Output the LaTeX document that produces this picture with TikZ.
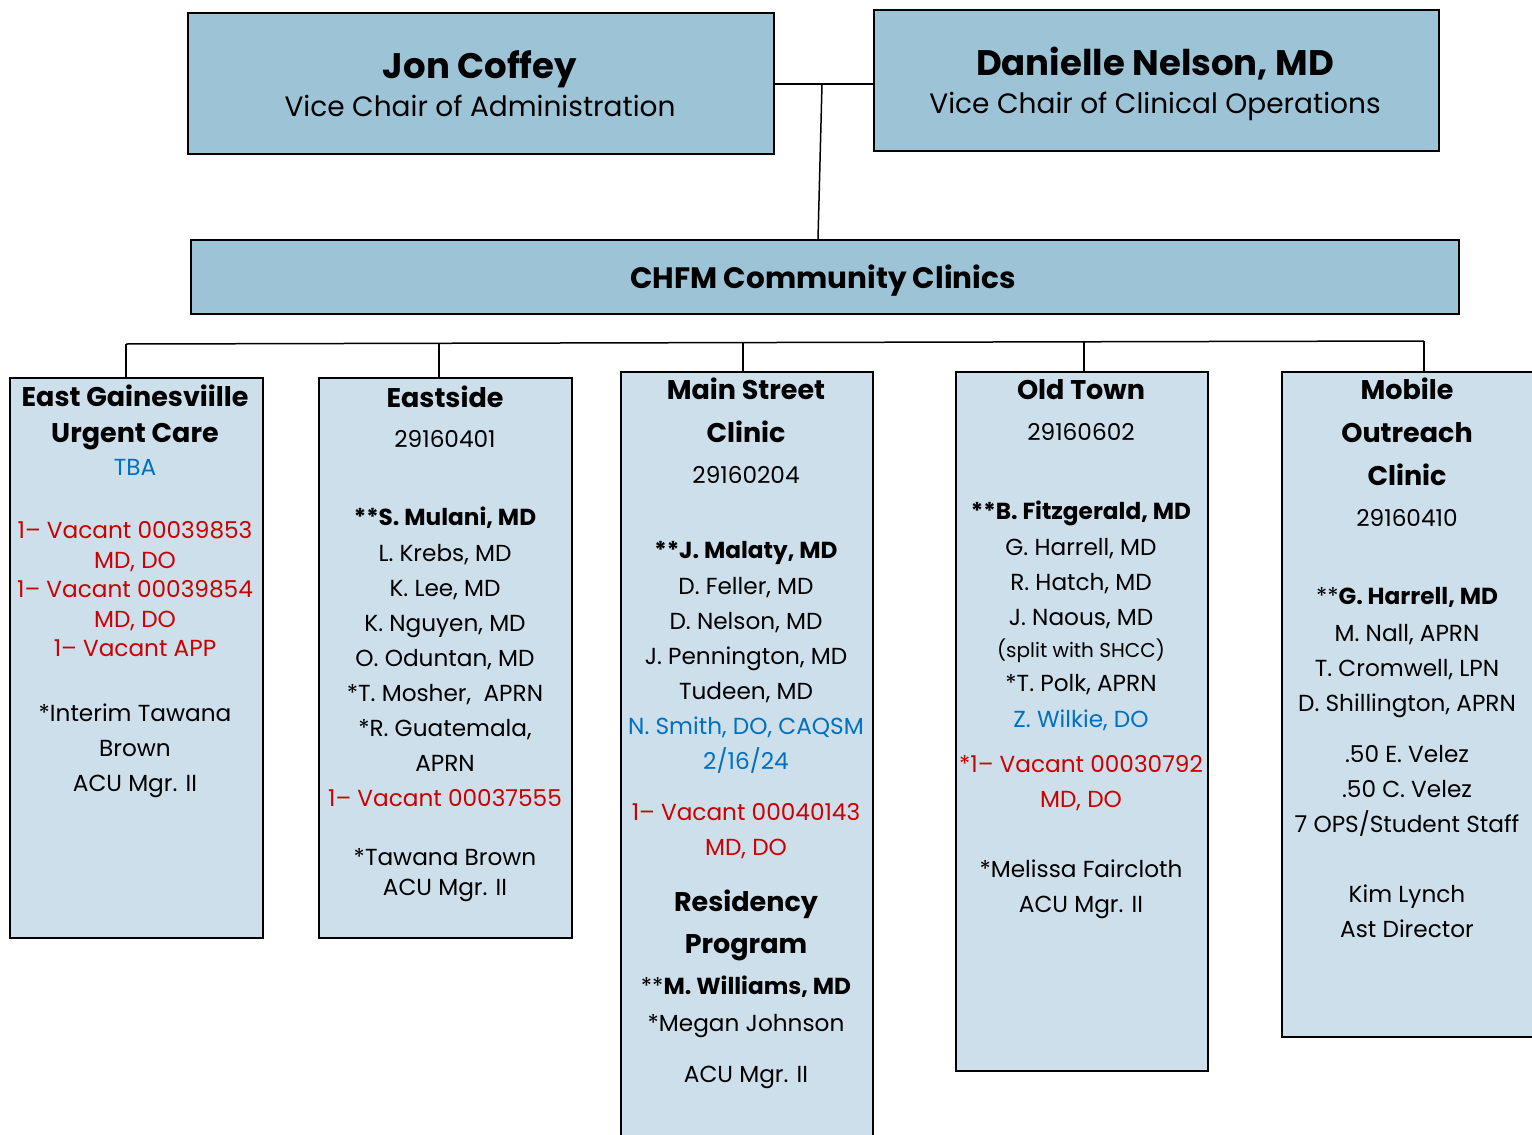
\documentclass[tikz,border=0pt]{standalone}
\usepackage{fontspec}
\setmainfont{Poppins}
\usepackage{xcolor}
\usepackage{tikz}
\definecolor{topblue}{RGB}{157,195,214}
\definecolor{boxblue}{RGB}{204,223,235}
\definecolor{vacred}{RGB}{204,0,0}
\definecolor{updblue}{RGB}{0,112,192}
\def\ttlsize{\fontsize{35.5}{40}\selectfont}
\def\subsize{\fontsize{28}{33}\selectfont}
\def\unitsize{\fontsize{29.5}{34}\selectfont}
\def\hdsize{\fontsize{27}{32}\selectfont}
\def\txtsize{\fontsize{23.2}{28}\selectfont}
\def\smsize{\fontsize{20}{24}\selectfont}

\begin{document}
\begin{tikzpicture}[x=1pt, y=-1pt,
    topbox/.style={draw, line width=1.8pt, fill=topblue, inner sep=0pt, anchor=north west},
    clinic/.style={draw, line width=1.8pt, fill=boxblue, inner sep=0pt, anchor=north west},
    wire/.style={line width=1.5pt},
    tx/.style={anchor=base, yshift=-8pt, inner sep=0pt, font=\txtsize},
    bd/.style={anchor=base, yshift=-8pt, inner sep=0pt, font=\txtsize\bfseries},
    hd/.style={anchor=base, yshift=-9.5pt, inner sep=0pt, font=\hdsize\bfseries},
    vac/.style={tx, text=vacred},
    upd/.style={tx, text=updblue},
    sm/.style={anchor=base, yshift=-7pt, inner sep=0pt, font=\smsize}]
\useasboundingbox (0,0) rectangle (1532,1135);
\clip (0,0) rectangle (1532,1135);

%% vice chairs
\node[topbox, minimum width=586pt, minimum height=141pt] (jc) at (187,12) {};
\node[topbox, minimum width=565pt, minimum height=141pt] (dn) at (873,9) {};
\node[anchor=base, font=\ttlsize\bfseries] (jc-name) at (480,78) {Jon Coffey};
\node[anchor=base, font=\subsize] (jc-role) at (480,116) {Vice Chair of Administration};
\node[anchor=base, font=\ttlsize\bfseries] (dn-name) at (1155,75) {Danielle Nelson, MD};
\node[anchor=base, font=\subsize] (dn-role) at (1155,113) {Vice Chair of Clinical Operations};

%% community clinics
\node[topbox, minimum width=1268pt, minimum height=74pt] (chfm) at (190,239) {};
\node[anchor=base, font=\unitsize\bfseries] (chfm-name) at (823,288) {CHFM Community Clinics};

    \coordinate (vc) at (822,84);
    \coordinate (vcb) at (818,239);
\draw[wire] (jc.east |- vc) -- (dn.west |- vc);
\draw[wire] (vc) -- (vcb);

%% clinic boxes
\node[clinic, minimum width=253pt, minimum height=560pt] (eg) at (9,377) {};
\node[clinic, minimum width=253pt, minimum height=560pt] (es) at (318,377) {};
\node[clinic, minimum width=252pt, minimum height=780pt] (ms) at (620,371) {};
\node[clinic, minimum width=252pt, minimum height=699pt] (ot) at (955,371) {};
\node[clinic, minimum width=280pt, minimum height=665pt] (mo) at (1281,371) {};

%% bus line
    \coordinate (b1) at (126,344);
    \coordinate (b2) at (439,343);
    \coordinate (b3) at (743,343);
    \coordinate (b4) at (1084,342);
    \coordinate (b5) at (1424,341);
\draw[wire] (b1) -- (b5);
\draw[wire] (b1) -- (b1 |- eg.north);
\draw[wire] (b2) -- (b2 |- es.north);
\draw[wire] (b3) -- (b3 |- ms.north);
\draw[wire] (b4) -- (b4 |- ot.north);
\draw[wire] (b5) -- (b5 |- mo.north);

%% East Gainesville
\foreach \y/\s/\t in {397/hd/East Gainesviille, 433/hd/Urgent Care, 467/upd/TBA,
    530/vac/1-- Vacant 00039853, 560/vac/{MD, DO}, 589/vac/1-- Vacant 00039854,
    619/vac/{MD, DO}, 648/vac/1-- Vacant APP,
    713/tx/*Interim Tawana, 748/tx/Brown, 783/tx/ACU Mgr. II}
    \node[\s] (eg-\y) at (135,\y) {\t};

%% Eastside
\foreach \y/\s/\t in {398/hd/Eastside, 439/tx/29160401,
    517/bd/{**S. Mulani, MD}, 553/tx/{L. Krebs, MD}, 588/tx/{K. Lee, MD},
    623/tx/{K. Nguyen, MD}, 658/tx/{O. Oduntan, MD}, 693/tx/{*T. Mosher, \ APRN},
    728/tx/{*R. Guatemala,}, 763/tx/APRN, 798/vac/1-- Vacant 00037555,
    857/tx/*Tawana Brown, 887/tx/ACU Mgr. II}
    \node[\s] (es-\y) at (445,\y) {\t};

%% Main Street
\foreach \y/\s/\t in {390/hd/Main Street, 433/hd/Clinic, 475/tx/29160204,
    550/bd/{**J. Malaty, MD}, 586/tx/{D. Feller, MD}, 621/tx/{D. Nelson, MD},
    656/tx/{J. Pennington, MD}, 691/tx/{Tudeen, MD}, 726/upd/{N. Smith, DO, CAQSM},
    761/upd/{2/16/24}, 812/vac/1-- Vacant 00040143, 847/vac/{MD, DO},
    902/hd/Residency, 944/hd/Program, 986/tx/{**\textbf{M. Williams, MD}},
    1023/tx/*Megan Johnson, 1074/tx/ACU Mgr. II}
    \node[\s] (ms-\y) at (746,\y) {\t};

%% Old Town
\foreach \y/\s/\t in {390/hd/Old Town, 432/tx/29160602,
    511/bd/{**B. Fitzgerald, MD}, 547/tx/{G. Harrell, MD}, 582/tx/{R. Hatch, MD},
    617/tx/{J. Naous, MD}, 650/sm/(split with SHCC), 683/tx/{*T. Polk, APRN},
    719/upd/{Z. Wilkie, DO}, 764/vac/*1-- Vacant 00030792, 799/vac/{MD, DO},
    869/tx/*Melissa Faircloth, 904/tx/ACU Mgr. II}
    \node[\s] (ot-\y) at (1081,\y) {\t};

%% Mobile Outreach
\foreach \y/\s/\t in {390/hd/Mobile, 433/hd/Outreach, 476/hd/Clinic, 518/tx/29160410,
    596/tx/{**\textbf{G. Harrell, MD}}, 633/tx/{M. Nall, APRN}, 668/tx/{T. Cromwell, LPN},
    703/tx/{D. Shillington, APRN}, 754/tx/.50 E. Velez, 789/tx/.50 C. Velez,
    824/tx/{7 OPS/Student Staff}, 894/tx/Kim Lynch, 929/tx/Ast Director}
    \node[\s] (mo-\y) at (1407,\y) {\t};

\end{tikzpicture}
\end{document}
